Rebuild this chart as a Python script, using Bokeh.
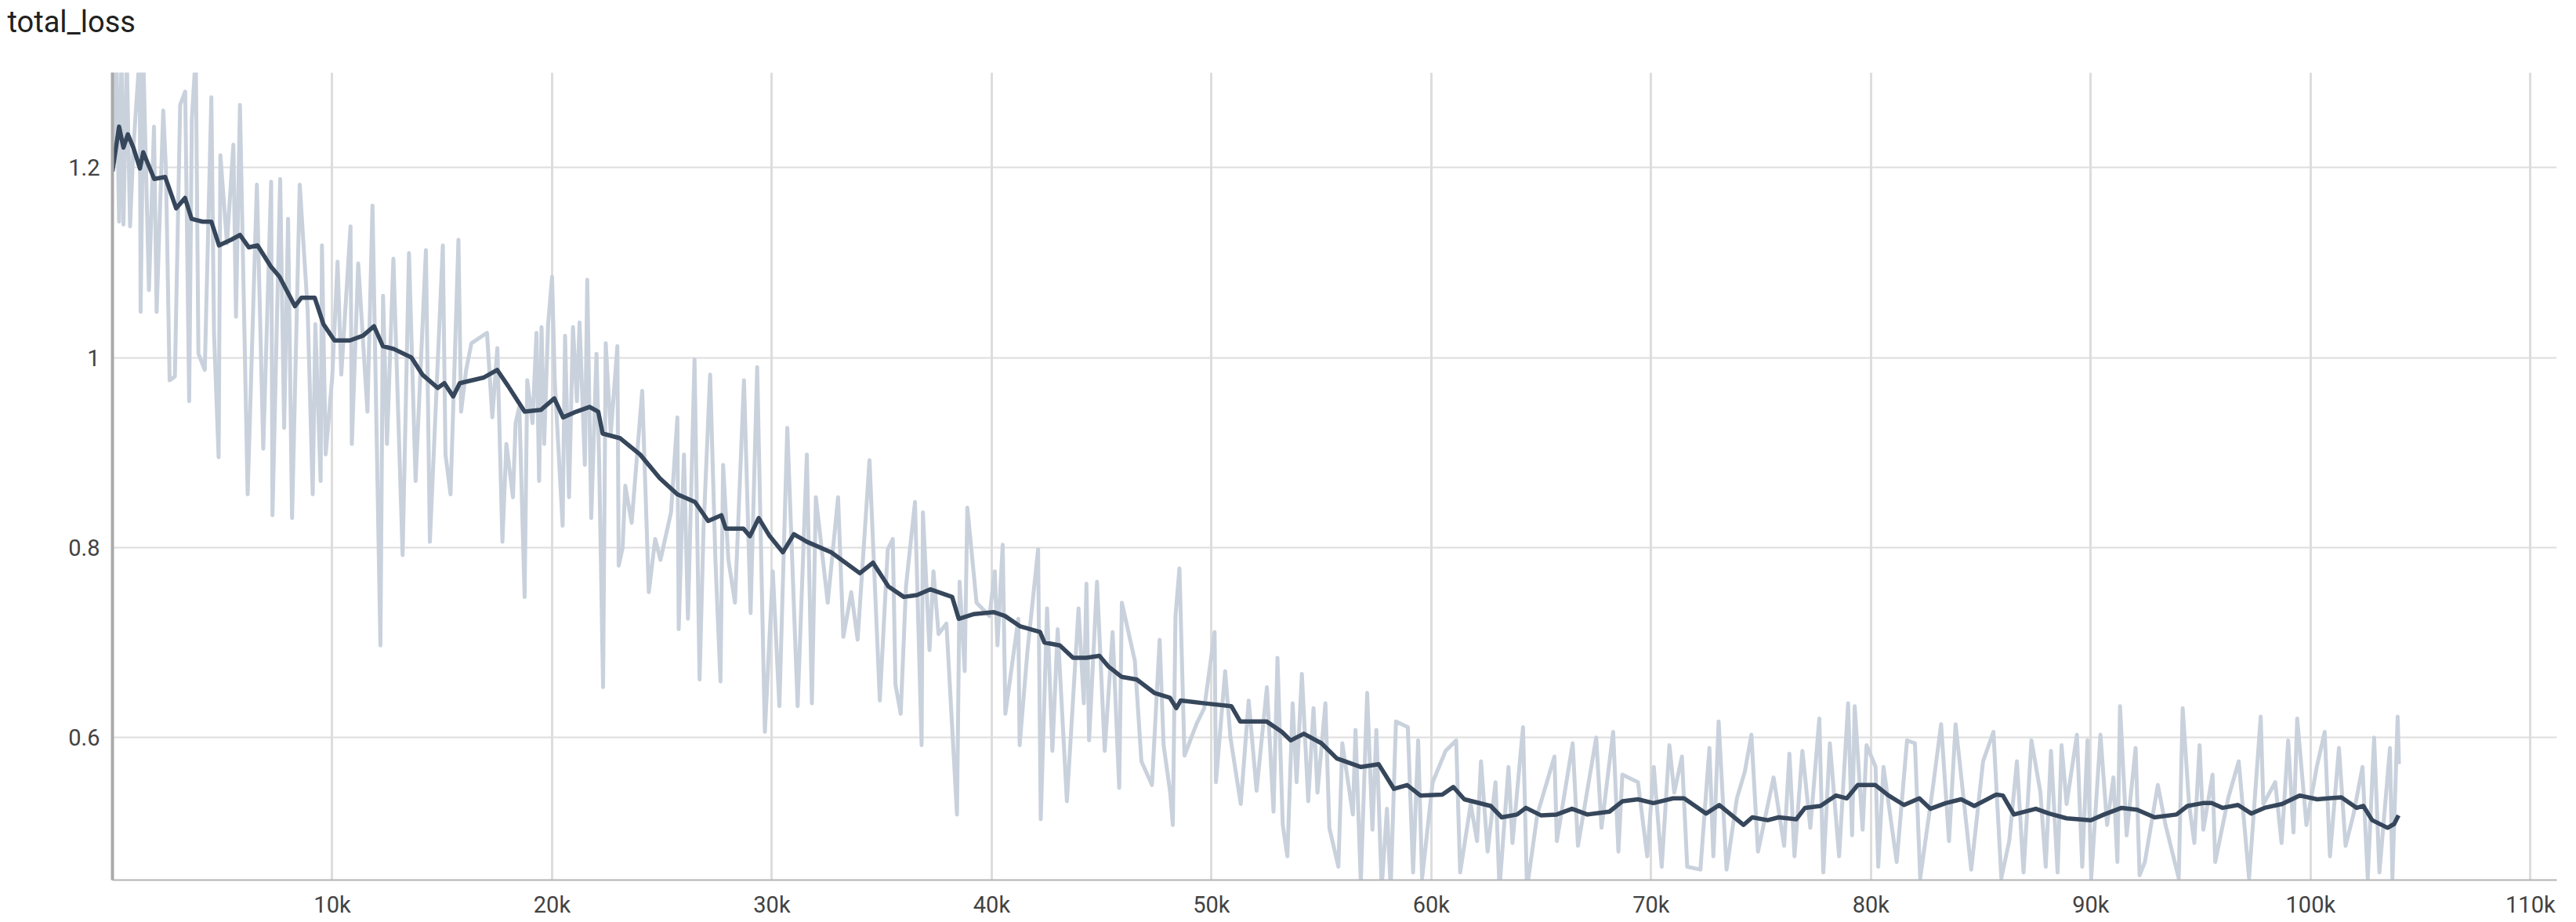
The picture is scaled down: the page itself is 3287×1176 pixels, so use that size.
from bokeh.plotting import figure
from bokeh.models import Range1d, FixedTicker, NumeralTickFormatter, ColumnDataSource, Title
from bokeh.embed import file_html
from bokeh.resources import INLINE

title_text = "total_loss"

raw_step = [0, 180, 300, 410, 500, 650, 800, 950, 1240, 1280, 1420, 1660, 1890, 2010, 2310, 2430, 2600, 2840, 3080, 3310,
            3490, 3610, 3790, 3910, 4200, 4500, 4620, 4830, 4910, 5210, 5500, 5620, 5800, 6150, 6570, 6860, 7220, 7280, 7630, 7810,
            7990, 8170, 8520, 8880, 9110, 9230, 9470, 9530, 9700, 10000, 10240, 10410, 10830, 10890, 11180, 11600, 11830, 12190, 12310, 12490,
            12780, 13200, 13490, 13790, 14260, 14440, 15030, 15150, 15380, 15740, 15860, 16090, 16330, 17040, 17280, 17510, 17740, 17920, 18220, 18340,
            18510, 18750, 18870, 19110, 19290, 19410, 19520, 19640, 19820, 20000, 20120, 20480, 20590, 20770, 20950, 21130, 21250, 21490, 21600, 21780,
            22020, 22140, 22320, 22440, 22670, 22970, 23030, 23210, 23330, 23620, 24100, 24400, 24690, 24930, 25410, 25700, 25760, 26000, 26180, 26480,
            26710, 26890, 27190, 27430, 27660, 27780, 28020, 28320, 28730, 29030, 29330, 29680, 30040, 30340, 30700, 31170, 31590, 31820, 32000, 32540,
            33010, 33250, 33610, 33900, 34440, 34910, 35270, 35500, 35620, 35860, 36100, 36510, 36810, 36870, 37170, 37350, 37580, 37940, 38420, 38540,
            38770, 38890, 39310, 39900, 40140, 40260, 40500, 40620, 41210, 41270, 41630, 42110, 42230, 42520, 42760, 43000, 43420, 43950, 44190, 44310,
            44430, 44790, 45140, 45500, 45800, 45920, 46510, 46810, 47290, 47640, 47820, 48120, 48240, 48360, 48540, 48770, 49310, 49670, 50140, 50200,
            50620, 50860, 51330, 51690, 52050, 52520, 52820, 53000, 53240, 53450, 53690, 53870, 54110, 54400, 54640, 54820, 55180, 55360, 55770, 55950,
            56430, 56550, 56790, 57080, 57320, 57500, 57740, 57980, 58150, 58390, 58930, 59170, 59400, 59580, 60060, 60650, 61130, 61310, 61790, 62080,
            62260, 62560, 62920, 63100, 63510, 63690, 64170, 64350, 64820, 65600, 65710, 66430, 66670, 67500, 67740, 68270, 68510, 68690, 69400, 69820,
            70120, 70480, 70830, 71050, 71400, 71640, 72240, 72650, 72830, 73070, 73430, 73900, 74260, 74560, 74860, 75570, 76050, 76290, 76520, 76880,
            77240, 77650, 77830, 78130, 78550, 78960, 79140, 79260, 79620, 79800, 80210, 80330, 80570, 81170, 81640, 82000, 82240, 82830, 83190, 83550,
            83850, 84560, 85100, 85570, 85930, 86290, 86640, 86940, 87300, 87710, 87950, 88190, 88490, 88670, 88900, 89370, 89610, 89850, 90020, 90440,
            90740, 91030, 91210, 91330, 91630, 92040, 92220, 92460, 93050, 93400, 94000, 94180, 94470, 94710, 94950, 95120, 95540, 95660, 96250, 96730,
            97200, 97730, 97850, 98390, 98680, 98980, 99220, 99390, 99810, 100280, 100640, 100880, 101290, 101590, 101950, 102360, 102600, 102890, 103130, 103610,
            103720, 103960, 104020]
raw_loss = [1.200, 1.320, 1.143, 1.320, 1.140, 1.320, 1.138, 1.220, 1.320, 1.048, 1.300, 1.071, 1.243, 1.048, 1.260, 1.200, 0.976, 0.980, 1.266, 1.280,
            0.954, 1.250, 1.320, 1.004, 0.987, 1.274, 1.026, 0.895, 1.213, 1.120, 1.224, 1.043, 1.266, 0.856, 1.182, 0.904, 1.185, 0.834, 1.188, 0.926,
            1.146, 0.831, 1.182, 1.050, 0.856, 1.035, 0.870, 1.118, 0.898, 0.980, 1.101, 0.982, 1.138, 0.909, 1.099, 0.943, 1.160, 0.697, 1.065, 0.909,
            1.104, 0.792, 1.110, 0.870, 1.113, 0.806, 1.118, 0.898, 0.856, 1.124, 0.943, 0.987, 1.015, 1.026, 0.937, 1.010, 0.806, 0.909, 0.853, 0.931,
            0.948, 0.748, 0.976, 0.931, 1.026, 0.870, 1.032, 0.909, 1.035, 1.085, 0.976, 0.823, 1.023, 0.853, 1.032, 0.954, 1.037, 0.887, 1.082, 0.831,
            1.004, 0.892, 0.653, 1.015, 0.920, 1.012, 0.781, 0.800, 0.865, 0.826, 0.965, 0.753, 0.809, 0.787, 0.837, 0.937, 0.714, 0.898, 0.725, 0.998,
            0.661, 0.820, 0.982, 0.787, 0.659, 0.887, 0.787, 0.742, 0.976, 0.731, 0.990, 0.606, 0.775, 0.633, 0.926, 0.633, 0.898, 0.636, 0.853, 0.742,
            0.853, 0.706, 0.753, 0.703, 0.892, 0.639, 0.798, 0.809, 0.656, 0.625, 0.759, 0.848, 0.592, 0.837, 0.692, 0.775, 0.709, 0.720, 0.519, 0.764,
            0.670, 0.842, 0.742, 0.728, 0.775, 0.697, 0.803, 0.625, 0.725, 0.592, 0.692, 0.798, 0.514, 0.736, 0.586, 0.714, 0.533, 0.736, 0.636, 0.762,
            0.597, 0.764, 0.586, 0.711, 0.547, 0.742, 0.681, 0.575, 0.550, 0.703, 0.592, 0.542, 0.508, 0.728, 0.778, 0.581, 0.614, 0.631, 0.711, 0.553,
            0.670, 0.600, 0.530, 0.639, 0.544, 0.653, 0.522, 0.684, 0.508, 0.475, 0.636, 0.553, 0.667, 0.533, 0.631, 0.542, 0.636, 0.505, 0.464, 0.594,
            0.519, 0.608, 0.447, 0.647, 0.503, 0.608, 0.441, 0.525, 0.441, 0.617, 0.611, 0.458, 0.597, 0.452, 0.553, 0.586, 0.597, 0.458, 0.530, 0.491,
            0.575, 0.480, 0.553, 0.441, 0.569, 0.489, 0.611, 0.441, 0.519, 0.580, 0.491, 0.594, 0.486, 0.600, 0.505, 0.606, 0.480, 0.561, 0.553, 0.475,
            0.569, 0.464, 0.592, 0.542, 0.580, 0.464, 0.461, 0.589, 0.475, 0.617, 0.461, 0.536, 0.564, 0.603, 0.480, 0.558, 0.486, 0.583, 0.475, 0.586,
            0.505, 0.620, 0.458, 0.594, 0.475, 0.636, 0.497, 0.633, 0.503, 0.592, 0.569, 0.464, 0.569, 0.469, 0.597, 0.594, 0.452, 0.550, 0.614, 0.491,
            0.614, 0.461, 0.575, 0.606, 0.452, 0.491, 0.575, 0.458, 0.597, 0.542, 0.464, 0.586, 0.458, 0.592, 0.530, 0.603, 0.464, 0.597, 0.452, 0.603,
            0.508, 0.558, 0.469, 0.633, 0.497, 0.589, 0.455, 0.469, 0.550, 0.508, 0.452, 0.631, 0.530, 0.489, 0.592, 0.503, 0.561, 0.469, 0.536, 0.575,
            0.452, 0.622, 0.530, 0.553, 0.489, 0.597, 0.500, 0.620, 0.508, 0.569, 0.606, 0.475, 0.589, 0.486, 0.519, 0.569, 0.452, 0.600, 0.458, 0.589,
            0.452, 0.622, 0.572]

smooth_step = [0, 300, 500, 700, 950, 1250, 1400, 1900, 2400, 2900, 3300, 3600, 4100, 4500, 4850, 5400, 5800, 6200, 6600, 7200,
               7600, 8300, 8600, 9200, 9600, 10100, 10800, 11400, 11900, 12300, 12800, 13600, 14100, 14800, 15100, 15500, 15800, 16900, 17500, 18000,
               18750, 19500, 20100, 20500, 21100, 21700, 22100, 22300, 23100, 24000, 24900, 25700, 26500, 27100, 27700, 27900, 28700, 29000, 29400, 29900,
               30500, 31000, 31600, 32700, 34000, 34600, 35300, 36000, 36600, 37200, 38200, 38500, 39200, 40100, 40600, 41300, 42200, 42400, 43100, 43700,
               44300, 44900, 45300, 45900, 46600, 47400, 48100, 48400, 48600, 49700, 50900, 51300, 52500, 53200, 53600, 54200, 55000, 55700, 56800, 57600,
               58300, 58900, 59500, 60500, 61000, 61500, 62700, 63200, 63900, 64300, 65000, 65700, 66400, 67100, 68100, 68700, 69400, 70100, 71000, 71500,
               72500, 73100, 74200, 74600, 75300, 75800, 76600, 77000, 77700, 78400, 78900, 79400, 80200, 80800, 81500, 82200, 82700, 83400, 84100, 84700,
               85700, 86000, 86500, 87500, 88100, 88900, 90000, 90600, 91400, 92100, 92900, 93900, 94400, 95100, 95500, 96000, 96700, 97300, 97900, 98700,
               99500, 100300, 100800, 101400, 102100, 102400, 102800, 103500, 103800, 104000]
smooth_loss = [1.196, 1.243, 1.221, 1.235, 1.221, 1.199, 1.216, 1.188, 1.190, 1.157, 1.168, 1.146, 1.143, 1.143, 1.118, 1.124, 1.129, 1.116, 1.118, 1.096,
               1.085, 1.054, 1.063, 1.063, 1.035, 1.018, 1.018, 1.023, 1.033, 1.012, 1.009, 1.000, 0.982, 0.968, 0.973, 0.959, 0.973, 0.979, 0.987, 0.970,
               0.943, 0.945, 0.957, 0.937, 0.943, 0.948, 0.943, 0.920, 0.915, 0.898, 0.873, 0.856, 0.848, 0.828, 0.834, 0.820, 0.820, 0.812, 0.831, 0.812,
               0.795, 0.814, 0.806, 0.795, 0.773, 0.784, 0.759, 0.748, 0.750, 0.756, 0.748, 0.725, 0.730, 0.732, 0.728, 0.717, 0.711, 0.700, 0.697, 0.684,
               0.684, 0.686, 0.675, 0.664, 0.661, 0.647, 0.642, 0.631, 0.639, 0.636, 0.633, 0.617, 0.617, 0.606, 0.597, 0.604, 0.594, 0.578, 0.569, 0.572,
               0.546, 0.550, 0.539, 0.540, 0.548, 0.535, 0.528, 0.516, 0.519, 0.526, 0.518, 0.519, 0.525, 0.519, 0.522, 0.533, 0.535, 0.531, 0.536, 0.536,
               0.520, 0.529, 0.508, 0.516, 0.513, 0.516, 0.514, 0.526, 0.528, 0.539, 0.536, 0.550, 0.550, 0.539, 0.529, 0.536, 0.525, 0.531, 0.535, 0.528,
               0.540, 0.539, 0.519, 0.525, 0.520, 0.515, 0.513, 0.519, 0.526, 0.524, 0.516, 0.519, 0.528, 0.531, 0.531, 0.526, 0.529, 0.520, 0.526, 0.530,
               0.539, 0.535, 0.536, 0.537, 0.526, 0.528, 0.513, 0.505, 0.509, 0.518]

x_ticks = [10000, 20000, 30000, 40000, 50000, 60000, 70000, 80000, 90000, 100000, 110000]
y_ticks = [0.6, 0.8, 1.0, 1.2]

p = figure(width=3274, height=1173, output_backend="svg", toolbar_location=None,
           x_range=Range1d(0, 111200), y_range=Range1d(0.45, 1.30),
           min_border_left=143, min_border_right=12, min_border_top=92, min_border_bottom=50)
p.outline_line_color = None
p.background_fill_color = "white"
p.border_fill_color = "white"

# spacer panel between the title and the frame
p.add_layout(Title(text=" ", text_font_size="1px", standoff=40), "above")

p.title.text = title_text
p.title.align = "left"
p.title.vertical_align = "bottom"
p.title.offset = -134
p.title.standoff = 0
p.title.text_font = "Roboto"
p.title.text_font_size = "38px"
p.title.text_font_style = "normal"
p.title.text_color = "#212121"

raw_src = ColumnDataSource(dict(x=raw_step, y=raw_loss))
sm_src = ColumnDataSource(dict(x=smooth_step, y=smooth_loss))
p.line("x", "y", source=raw_src, line_color="#c9d1dc", line_width=5, line_join="round")
p.line("x", "y", source=sm_src, line_color="#36465b", line_width=5.5, line_join="round")

p.xaxis.ticker = FixedTicker(ticks=x_ticks)
p.xaxis.formatter = NumeralTickFormatter(format="0a")
p.yaxis.ticker = FixedTicker(ticks=y_ticks)
p.yaxis.formatter = NumeralTickFormatter(format="0.[0]")

for ax in (p.xaxis[0], p.yaxis[0]):
    ax.major_tick_line_color = None
    ax.minor_tick_line_color = None
    ax.major_tick_out = 0
    ax.major_tick_in = 0
    ax.major_label_text_font = "Roboto"
    ax.major_label_text_font_size = "29px"
    ax.major_label_text_color = "#424242"
p.xaxis.major_label_standoff = 14
p.yaxis.major_label_standoff = 16
p.yaxis.axis_line_color = "#aaaaaa"
p.yaxis.axis_line_width = 4
p.xaxis.axis_line_color = "#b4b4b4"
p.xaxis.axis_line_width = 2

p.xgrid.grid_line_color = "#dddddd"
p.xgrid.grid_line_width = 3
p.ygrid.grid_line_color = "#dddddd"
p.ygrid.grid_line_width = 2

open("out.html", "w").write(file_html(p, INLINE))
